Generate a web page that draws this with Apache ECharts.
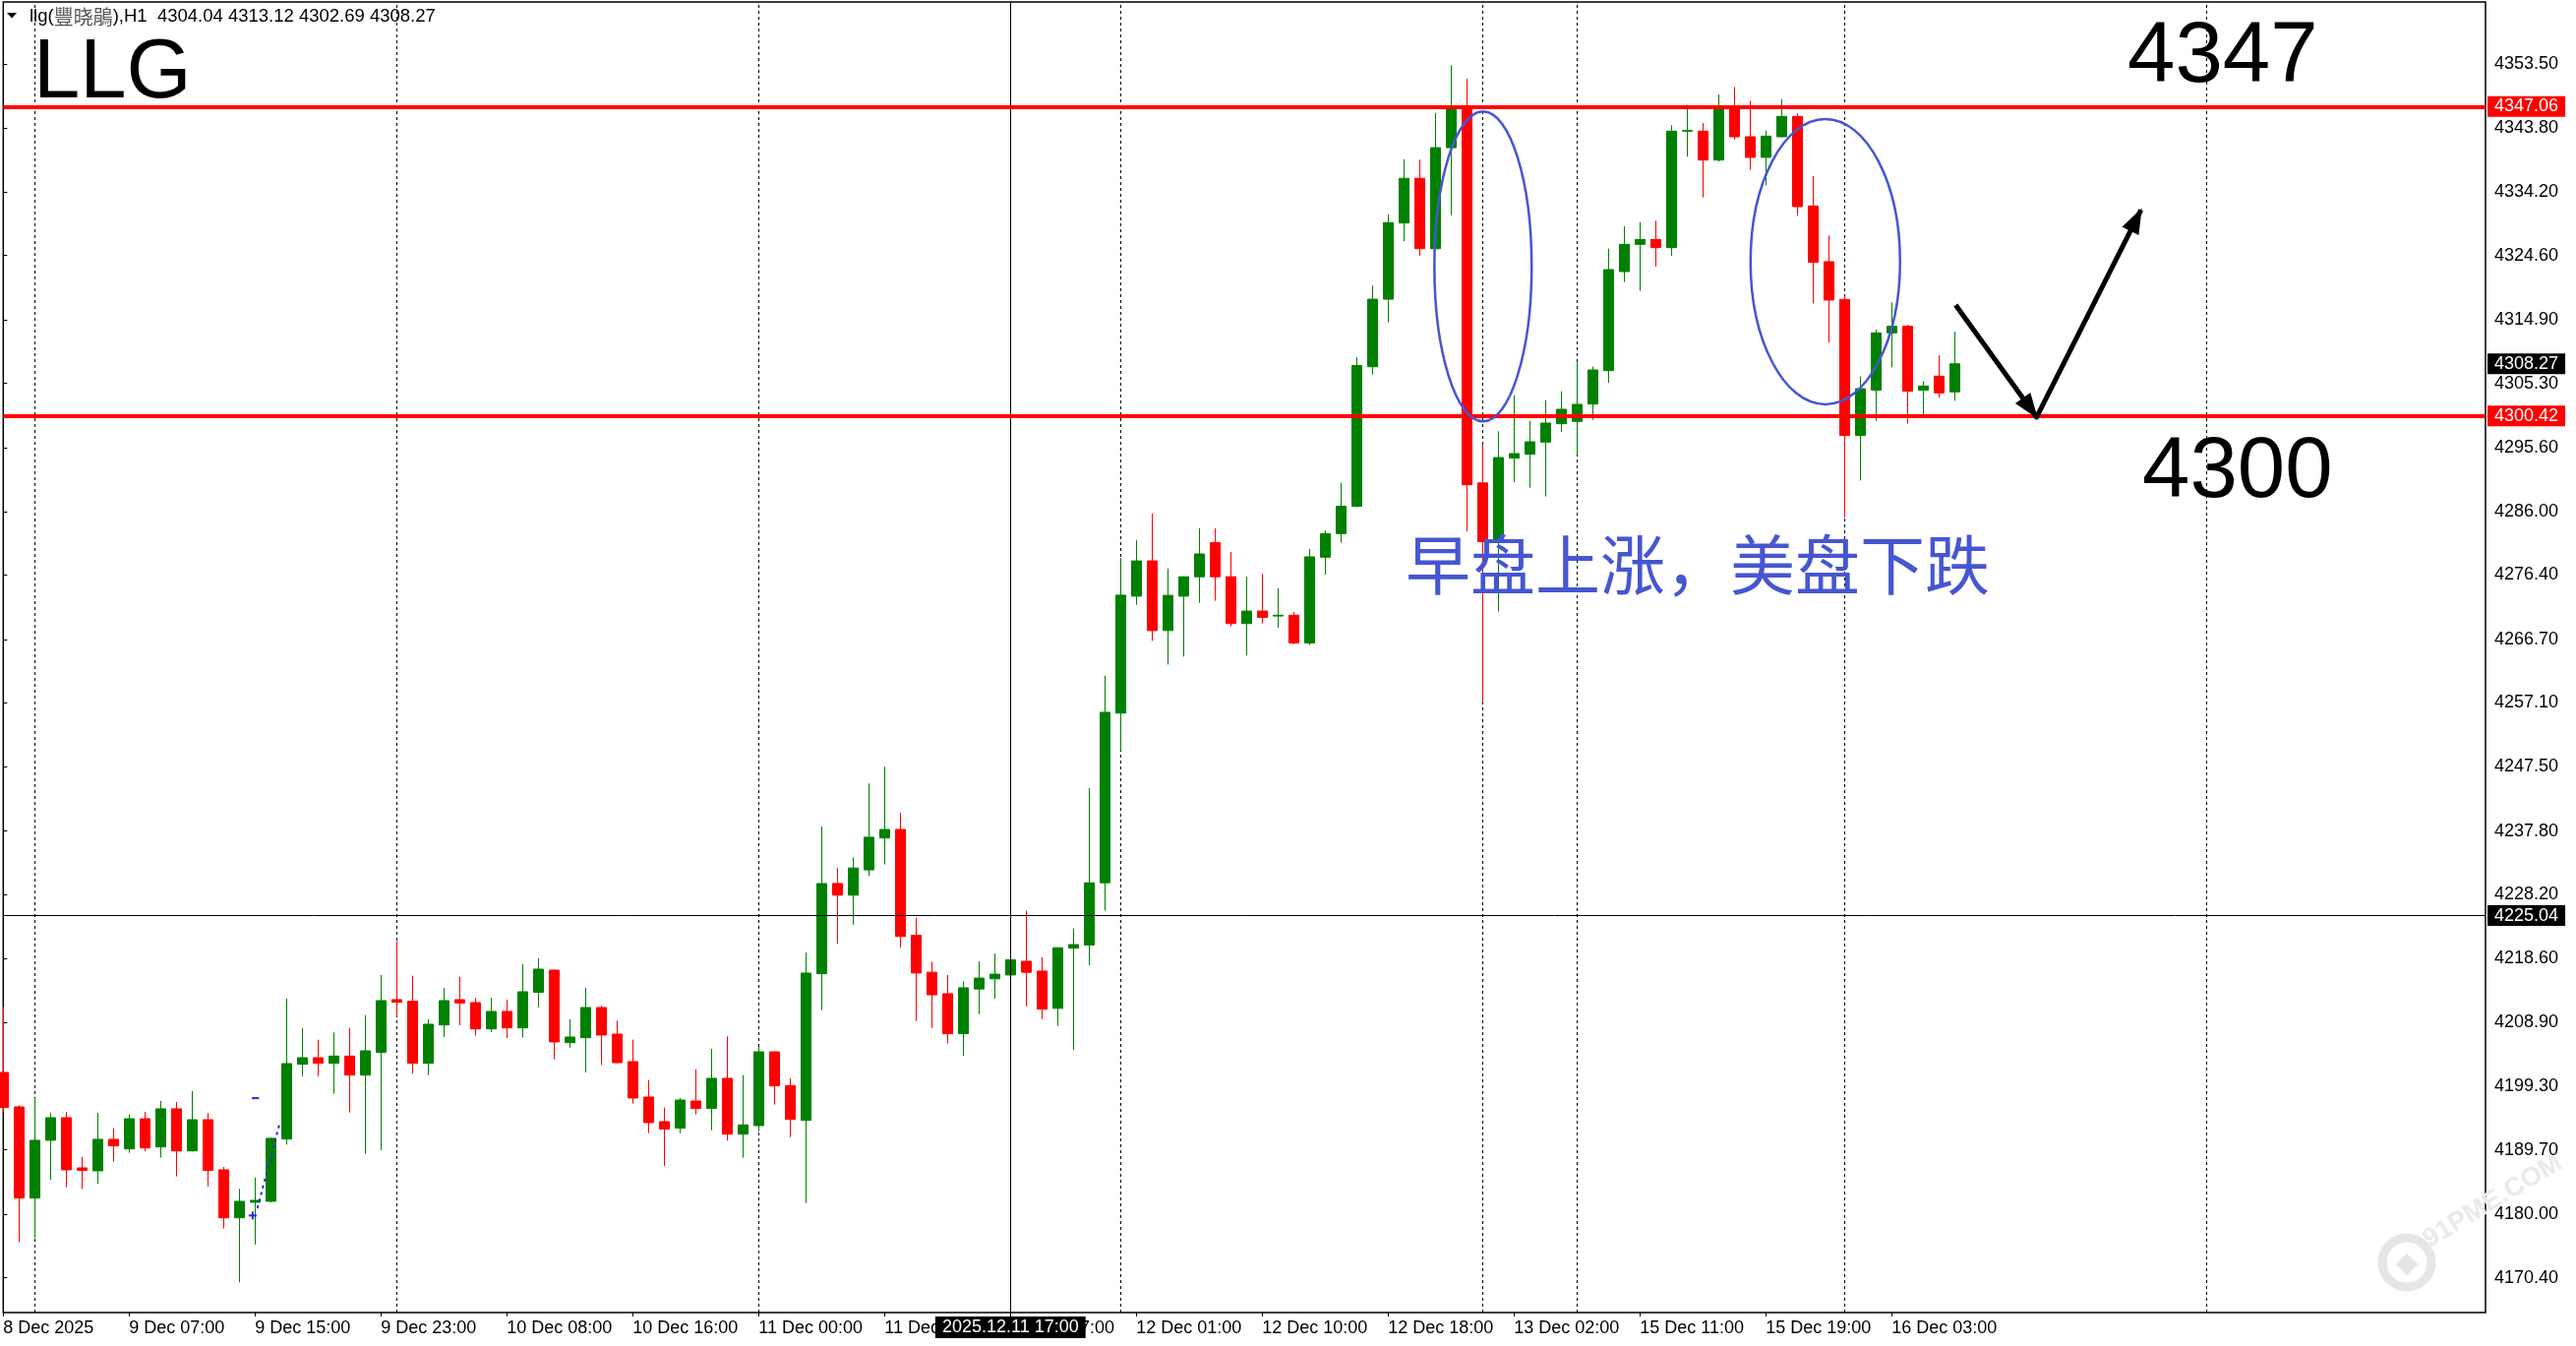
<!DOCTYPE html>
<html><head><meta charset="utf-8">
<script src="https://cdn.jsdelivr.net/npm/echarts@6/dist/echarts.min.js"></script>
<style>html,body{margin:0;padding:0;background:#fff;}#c{width:2619px;height:1368px;}</style>
</head><body><div id="c"></div>
<script>
// ---------- data ----------
const xLabelBars = [0, 8, 16, 24, 32, 40, 48, 56, 64, 72, 80, 88, 96, 104, 112, 120];
const xLabels = ['8 Dec 2025', '9 Dec 07:00', '9 Dec 15:00', '9 Dec 23:00', '10 Dec 08:00', '10 Dec 16:00',
  '11 Dec 00:00', '11 Dec 08:00', '11 Dec 17:00', '12 Dec 01:00', '12 Dec 10:00', '12 Dec 18:00',
  '13 Dec 02:00', '15 Dec 11:00', '15 Dec 19:00', '16 Dec 03:00'];
const yTicks = [4170.40, 4180.00, 4189.70, 4199.30, 4208.90, 4218.60, 4228.20, 4237.80, 4247.50, 4257.10,
  4266.70, 4276.40, 4286.00, 4295.60, 4305.30, 4314.90, 4324.60, 4334.20, 4343.80, 4353.50];

const openP = [4201.38,4196.18,4182.43,4191.14,4194.55,4186.98,4186.54,4191.29,4189.85,4194.40,
4190.15,4195.89,4189.55,4194.25,4186.69,4179.46,4181.79,4181.94,4191.34,4202.61,
4203.60,4202.76,4203.85,4200.98,4204.39,4212.36,4212.11,4202.76,4208.55,4212.36,
4211.91,4207.95,4210.58,4208.10,4213.45,4216.81,4205.88,4206.62,4211.17,4207.16,
4203.01,4197.67,4193.96,4192.97,4197.07,4195.94,4200.49,4192.07,4193.36,4204.49,
4199.40,4194.15,4216.27,4229.88,4228.11,4231.93,4236.74,4238.03,4222.07,4216.49,
4213.26,4207.22,4213.97,4215.50,4216.08,4218.14,4216.67,4211.04,4220.13,4220.60,
4229.99,4255.58,4273.22,4278.53,4268.03,4273.22,4276.15,4281.28,4276.15,4269.09,
4270.97,4270.22,4270.34,4266.16,4279.09,4282.65,4286.77,4307.82,4318.01,4329.50,
4336.25,4325.63,4340.87,4346.92,4290.30,4281.50,4294.04,4294.63,4296.46,4299.23,
4299.58,4302.20,4307.24,4322.18,4326.29,4327.03,4325.79,4343.36,4343.36,4339.00,
4346.92,4342.52,4339.40,4342.52,4345.58,4332.08,4323.67,4317.98,4297.45,4304.28,
4312.93,4313.92,4304.28,4306.40,4304.04];
const highP = [4211.27,4196.43,4197.52,4195.34,4195.44,4188.61,4195.29,4192.97,4195.04,4195.44,
4197.07,4196.92,4198.56,4195.24,4187.13,4183.82,4185.55,4191.50,4212.51,4208.06,
4206.32,4207.41,4208.06,4210.03,4216.07,4221.16,4215.97,4209.39,4214.14,4215.82,
4212.65,4212.65,4212.36,4217.70,4218.59,4216.90,4209.39,4214.14,4211.47,4209.19,
4206.32,4200.24,4196.08,4197.52,4201.87,4204.94,4206.82,4200.98,4205.23,4204.55,
4200.49,4219.48,4238.48,4232.22,4233.81,4244.96,4247.48,4240.56,4224.71,4218.08,
4216.09,4215.15,4218.14,4219.31,4219.00,4225.77,4218.73,4220.25,4223.07,4244.25,
4261.22,4279.00,4281.65,4285.71,4277.40,4276.20,4283.46,4283.46,4279.90,4276.15,
4276.59,4274.40,4270.84,4280.34,4283.15,4290.33,4309.26,4320.07,4330.81,4339.12,
4339.06,4346.12,4353.30,4351.27,4296.11,4298.09,4303.53,4299.67,4302.79,4304.13,
4308.48,4307.84,4325.65,4329.01,4329.65,4329.85,4344.25,4347.31,4344.59,4348.90,
4350.03,4347.96,4343.46,4348.20,4346.08,4336.58,4327.63,4318.52,4306.35,4313.43,
4317.53,4314.17,4305.66,4309.57,4313.12];
const lowP = [4195.34,4175.75,4176.40,4185.20,4184.06,4183.82,4184.56,4187.92,4189.26,4189.50,
4188.52,4185.69,4189.45,4184.16,4177.83,4169.72,4175.41,4181.80,4190.49,4200.78,
4200.78,4198.16,4195.34,4189.11,4189.65,4209.88,4201.23,4200.98,4206.72,4208.50,
4206.92,4207.46,4206.57,4206.62,4211.22,4203.36,4205.09,4201.38,4202.51,4202.71,
4196.68,4192.22,4187.28,4192.22,4195.04,4192.67,4191.08,4188.52,4192.47,4196.53,
4191.63,4181.69,4210.78,4220.78,4223.65,4230.99,4232.75,4220.19,4209.16,4208.10,
4205.75,4203.88,4210.16,4212.50,4215.50,4211.33,4209.45,4208.39,4204.76,4217.55,
4225.77,4249.95,4271.91,4266.47,4262.91,4264.10,4272.22,4272.53,4268.66,4264.28,
4269.09,4268.47,4265.97,4265.85,4276.46,4281.28,4286.65,4306.64,4314.51,4326.75,
4324.57,4325.50,4330.69,4283.00,4257.38,4270.88,4290.42,4289.58,4288.25,4297.99,
4294.50,4299.82,4305.41,4320.60,4319.26,4322.93,4324.56,4339.50,4333.36,4338.76,
4342.12,4337.52,4335.19,4342.40,4330.59,4317.39,4311.45,4285.08,4290.67,4299.67,
4307.74,4299.23,4300.57,4303.14,4302.69];
const closeP = [4196.08,4182.43,4191.14,4194.55,4186.69,4186.59,4191.29,4190.30,4194.40,4190.00,
4195.89,4189.55,4194.25,4186.59,4179.46,4181.94,4182.09,4191.44,4202.71,4203.60,
4202.76,4203.85,4200.98,4204.64,4212.21,4211.96,4202.76,4208.65,4212.21,4211.86,
4207.95,4210.58,4208.10,4213.55,4216.96,4205.98,4206.72,4211.17,4207.02,4202.86,
4197.52,4193.81,4192.82,4197.22,4195.94,4200.49,4192.07,4193.46,4204.49,4199.35,
4194.30,4216.37,4229.87,4228.11,4232.22,4236.86,4238.03,4221.89,4216.38,4213.09,
4207.22,4214.15,4215.61,4216.20,4218.37,4216.49,4210.92,4220.19,4220.66,4229.99,
4255.70,4273.37,4278.53,4268.03,4273.34,4276.15,4279.59,4276.15,4269.09,4270.97,
4270.03,4270.34,4266.16,4279.15,4282.65,4286.77,4308.01,4318.01,4329.57,4336.25,
4325.63,4340.87,4346.92,4290.03,4281.45,4294.13,4294.73,4296.51,4299.33,4301.41,
4302.15,4307.34,4322.48,4326.29,4327.03,4325.79,4343.36,4343.46,4339.00,4346.92,
4342.52,4339.40,4342.61,4345.58,4331.98,4323.57,4317.88,4297.45,4304.52,4312.93,
4313.92,4304.13,4304.92,4303.88,4308.27];

const resistanceLevel = 4347.06;
const supportLevel = 4300.42;
const lastPrice = 4308.27;
const crossPrice = 4225.04;
const crossBar = 64;
const crossLabel = '2025.12.11 17:00';
const gridBars = [2, 25, 48, 71, 94, 100, 117, 140];

// ---------- styles / layout ----------
const FONT = "'Liberation Sans', Arial, sans-serif";
const GREEN = '#008000', RED = '#ff0000', BLUE = '#4656d2';
const GRID_LEFT = 3.3, GRID_TOP = 2, GRID_RIGHT_X = 2527, GRID_BOTTOM_Y = 1334;
const BAR_PX = 16;
const xMax = (GRID_RIGHT_X - GRID_LEFT) / BAR_PX;
const yMin = 4165.161, yMax = 4362.846;

const candles = openP.map((o, i) => [i, o, closeP[i], lowP[i], highP[i]]);

const priceLabel = (bg) => ({
  show: true, position: 'end', distance: 2, color: '#fff', backgroundColor: bg,
  fontFamily: FONT, fontSize: 18, lineHeight: 19, padding: [1, 7, 1, 7],
  formatter: (p) => Number(p.value).toFixed(2)
});

const chart = echarts.init(document.getElementById('c'), null, { renderer: 'canvas' });
const option = {
  animation: false,
  backgroundColor: '#fff',
  grid: {
    left: GRID_LEFT, top: GRID_TOP,
    width: GRID_RIGHT_X - GRID_LEFT, height: GRID_BOTTOM_Y - GRID_TOP,
    show: true, borderColor: '#000', borderWidth: 1.5, backgroundColor: '#fff'
  },
  xAxis: {
    type: 'value', min: 0, max: xMax,
    axisLine: { show: false },
    splitLine: { show: false },
    axisTick: { show: true, length: 4, lineStyle: { color: '#000' }, customValues: xLabelBars },
    axisLabel: {
      customValues: xLabelBars, align: 'left', margin: 7, color: '#000',
      fontFamily: FONT, fontSize: 18,
      formatter: (v) => { const k = xLabelBars.indexOf(Math.round(v)); return k >= 0 ? xLabels[k] : ''; }
    }
  },
  yAxis: {
    type: 'value', position: 'right', min: yMin, max: yMax, scale: true,
    axisLine: { show: false },
    splitLine: { show: false },
    axisTick: { show: true, length: 4, lineStyle: { color: '#000' }, customValues: yTicks },
    axisLabel: {
      customValues: yTicks, align: 'left', margin: 9, color: '#000',
      fontFamily: FONT, fontSize: 18,
      formatter: (v) => v.toFixed(2)
    }
  },
  series: [
    {
      type: 'line', data: [], silent: true, z: 1,
      markLine: {
        z: 1, silent: true, symbol: ['none', 'none'], animation: false,
        label: { show: false },
        lineStyle: { color: '#000', width: 1, type: [3, 3] },
        data: gridBars.map(b => ({ xAxis: b }))
      }
    },
    {
      type: 'candlestick', z: 3, clip: false,
      encode: { x: 0, y: [1, 2, 3, 4] },
      data: candles,
      barWidth: 10,
      itemStyle: { color: GREEN, color0: RED, borderColor: GREEN, borderColor0: RED, borderWidth: 1 },
      markLine: {
        z: 5, silent: true, symbol: ['none', 'none'], animation: false,
        data: [
          { xAxis: crossBar, lineStyle: { color: '#000', width: 1, type: 'solid' },
            label: { show: true, position: 'start', distance: 4, color: '#fff', backgroundColor: '#000',
              fontFamily: FONT, fontSize: 18, lineHeight: 19, padding: [2, 7, 1, 7], formatter: crossLabel } },
          { yAxis: crossPrice, lineStyle: { color: '#000', width: 1, type: 'solid' }, label: priceLabel('#000') },
          { yAxis: lastPrice, lineStyle: { color: 'rgba(0,0,0,0)', width: 0 }, label: priceLabel('#000') },
          { yAxis: resistanceLevel, lineStyle: { color: RED, width: 4, type: 'solid' }, label: priceLabel(RED) },
          { yAxis: supportLevel, lineStyle: { color: RED, width: 4, type: 'solid' }, label: priceLabel(RED) }
        ]
      }
    }
  ]
};
chart.setOption(option);

// ---------- annotations (drawn in data coordinates) ----------
const annot = {
  ellipses: [
    { bar: 94.03, price: 4322.95, halfBars: 3.09, halfPrice: 23.37 },
    { bar: 115.78, price: 4323.67, halfBars: 4.75, halfPrice: 21.52 }
  ],
  arrow: [[124.06, 4317.14], [129.21, 4300.22], [135.84, 4331.49]],
  blueMarks: { dash: [[15.8, 4197.5], [16.25, 4197.5]], dotted: [[16.15, 4180.9], [17.6, 4194.0]], cross: [15.85, 4179.8] }
};
const toPx = (b, p) => chart.convertToPixel({ xAxisIndex: 0, yAxisIndex: 0 }, [b, p]);
const g = [];

annot.ellipses.forEach(e => {
  const c = toPx(e.bar, e.price), ed = toPx(e.bar + e.halfBars, e.price + e.halfPrice);
  g.push({ type: 'ellipse', silent: true, z: 100,
    shape: { cx: c[0], cy: c[1], rx: ed[0] - c[0], ry: c[1] - ed[1] },
    style: { fill: null, stroke: BLUE, lineWidth: 2.5 } });
});

const ap = annot.arrow.map(q => toPx(q[0], q[1]));
g.push({ type: 'polyline', silent: true, z: 100, shape: { points: ap },
  style: { stroke: '#000', lineWidth: 5, fill: null, lineJoin: 'round', lineCap: 'butt' } });
function head(from, tip) {
  const dx = tip[0] - from[0], dy = tip[1] - from[1], L = Math.hypot(dx, dy);
  const ux = dx / L, uy = dy / L, len = 24, hw = 9.5;
  const bx = tip[0] - ux * len, by = tip[1] - uy * len;
  return { type: 'polygon', silent: true, z: 101,
    shape: { points: [[tip[0] + ux * 2, tip[1] + uy * 2], [bx - uy * hw, by + ux * hw], [bx + uy * hw, by - ux * hw]] },
    style: { fill: '#000' } };
}
g.push(head(ap[0], ap[1]));
g.push(head(ap[1], ap[2]));

// small blue object traces near bar 16
const bm = annot.blueMarks;
g.push({ type: 'polyline', silent: true, z: 50, shape: { points: bm.dash.map(q => toPx(q[0], q[1])) },
  style: { stroke: '#2a2ae0', lineWidth: 2, fill: null } });
g.push({ type: 'polyline', silent: true, z: 50, shape: { points: bm.dotted.map(q => toPx(q[0], q[1])) },
  style: { stroke: '#2a2ae0', lineWidth: 2, fill: null, lineDash: [3, 4] } });
const cp = toPx(bm.cross[0], bm.cross[1]);
g.push({ type: 'polyline', silent: true, z: 50, shape: { points: [[cp[0] - 4, cp[1]], [cp[0] + 4, cp[1]]] }, style: { stroke: '#2a2ae0', lineWidth: 2 } });
g.push({ type: 'polyline', silent: true, z: 50, shape: { points: [[cp[0], cp[1] - 4], [cp[0], cp[1] + 4]] }, style: { stroke: '#2a2ae0', lineWidth: 2 } });

// texts
const n = closeP.length - 1;
g.push({ type: 'polygon', silent: true, z: 100, shape: { points: [[7, 13], [17, 13], [12, 18.5]] }, style: { fill: '#000' } });
g.push({ type: 'text', silent: true, z: 100, x: 30, y: 17,
  style: {
    text: '{a|llg(}{b|豐晓鵑}{a|),H1  ' + [openP[n], highP[n], lowP[n], closeP[n]].map(v => v.toFixed(2)).join(' ') + '}',
    verticalAlign: 'middle', align: 'left',
    rich: {
      a: { fontFamily: FONT, fontSize: 18.5, fill: '#000' },
      b: { fontFamily: "'Noto Sans CJK TC', 'Noto Sans CJK SC', sans-serif", fontSize: 20, fill: '#555' }
    }
  } });
g.push({ type: 'text', silent: true, z: 100, x: 34, y: 76,
  style: { text: 'LLG', fontFamily: FONT, fontSize: 85, fill: '#000', verticalAlign: 'middle', align: 'left' } });
g.push({ type: 'text', silent: true, z: 100, x: 2163, y: 59,
  style: { text: String(Math.floor(resistanceLevel)), fontFamily: FONT, fontSize: 87, fill: '#000', verticalAlign: 'middle', align: 'left' } });
g.push({ type: 'text', silent: true, z: 100, x: 2178, y: 481,
  style: { text: String(Math.floor(supportLevel)), fontFamily: FONT, fontSize: 87, fill: '#000', verticalAlign: 'middle', align: 'left' } });
g.push({ type: 'text', silent: true, z: 100, x: 1429, y: 574,
  style: { text: '早盘上涨，美盘下跌', fontFamily: "'Noto Sans CJK SC', sans-serif", fontSize: 66, fill: BLUE, verticalAlign: 'middle', align: 'left' } });

// faint watermark
g.push({ type: 'circle', silent: true, z: 0, shape: { cx: 2447, cy: 1283, r: 25 }, style: { fill: null, stroke: '#e6e6e6', lineWidth: 9 } });
g.push({ type: 'rect', silent: true, z: 0, x: 2447, y: 1285, rotation: Math.PI / 4, shape: { x: -8, y: -8, width: 16, height: 16 }, style: { fill: '#e6e6e6' } });
g.push({ type: 'text', silent: true, z: 0, x: 2466, y: 1262, rotation: 31 * Math.PI / 180,
  style: { text: '91PME.COM', fontFamily: FONT, fontSize: 27, fontWeight: 'bold', fill: '#eaeaea', verticalAlign: 'middle', align: 'left' } });

chart.setOption({ graphic: g });
</script>
</body></html>
